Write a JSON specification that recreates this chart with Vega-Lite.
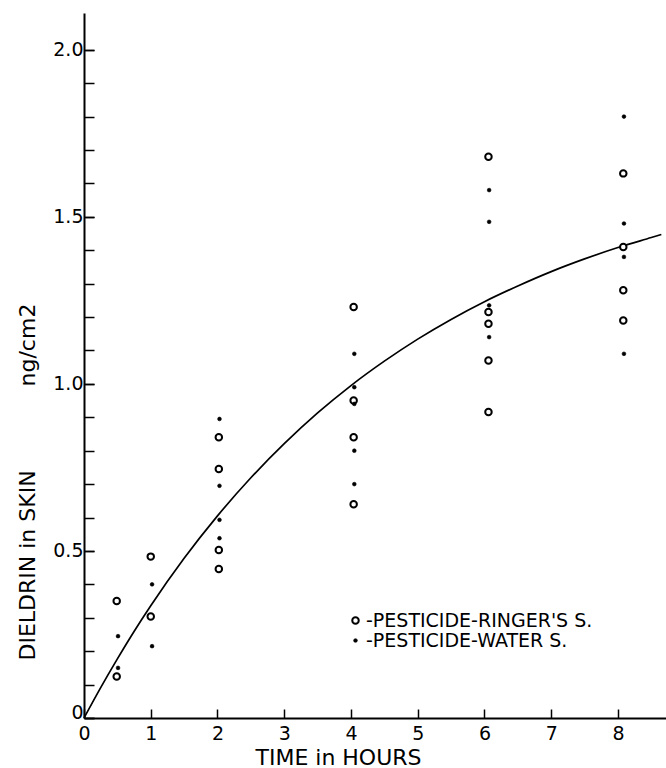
{
  "$schema": "https://vega.github.io/schema/vega-lite/v6.json",
  "autosize": {"type": "none"},
  "padding": {"left": 84, "top": 13, "right": 0, "bottom": 50},
  "width": 582,
  "height": 705,
  "background": "white",
  "config": {
    "view": {"stroke": null},
    "font": "DejaVu Sans",
    "axis": {
      "domainColor": "black", "domainWidth": 2,
      "tickColor": "black", "tickWidth": 1.5,
      "labelColor": "black", "titleColor": "black",
      "labelFont": "DejaVu Sans", "titleFont": "DejaVu Sans",
      "labelFontSize": 19, "titleFontSize": 22, "titleFontWeight": "normal",
      "grid": false, "labelOverlap": false, "labelBound": false, "labelFlush": false
    },
    "legend": {"labelFont": "DejaVu Sans", "labelFontSize": 19, "labelColor": "black", "labelLimit": 0}
  },
  "resolve": {"axis": {"y": "independent"}},
  "datasets": {
    "curve": [
      {"t": 0, "v": 0}, {"t": 0.25, "v": 0.091}, {"t": 0.5, "v": 0.177}, {"t": 0.75, "v": 0.259},
      {"t": 1, "v": 0.336}, {"t": 1.5, "v": 0.478}, {"t": 2, "v": 0.605}, {"t": 2.5, "v": 0.719},
      {"t": 3, "v": 0.821}, {"t": 3.5, "v": 0.913}, {"t": 4, "v": 0.995}, {"t": 4.5, "v": 1.068},
      {"t": 5, "v": 1.134}, {"t": 5.5, "v": 1.193}, {"t": 6, "v": 1.246}, {"t": 6.5, "v": 1.293},
      {"t": 7, "v": 1.336}, {"t": 7.5, "v": 1.374}, {"t": 8, "v": 1.408}, {"t": 8.5, "v": 1.438},
      {"t": 8.65, "v": 1.447}
    ],
    "pts": [
      {"hours": 0.49, "value": 0.35, "series": "-PESTICIDE-RINGER'S S."},
      {"hours": 0.49, "value": 0.124, "series": "-PESTICIDE-RINGER'S S."},
      {"hours": 0.51, "value": 0.245, "series": "-PESTICIDE-WATER S."},
      {"hours": 0.51, "value": 0.15, "series": "-PESTICIDE-WATER S."},
      {"hours": 1.0, "value": 0.483, "series": "-PESTICIDE-RINGER'S S."},
      {"hours": 1.0, "value": 0.304, "series": "-PESTICIDE-RINGER'S S."},
      {"hours": 1.02, "value": 0.40, "series": "-PESTICIDE-WATER S."},
      {"hours": 1.02, "value": 0.215, "series": "-PESTICIDE-WATER S."},
      {"hours": 2.02, "value": 0.84, "series": "-PESTICIDE-RINGER'S S."},
      {"hours": 2.02, "value": 0.745, "series": "-PESTICIDE-RINGER'S S."},
      {"hours": 2.02, "value": 0.503, "series": "-PESTICIDE-RINGER'S S."},
      {"hours": 2.02, "value": 0.446, "series": "-PESTICIDE-RINGER'S S."},
      {"hours": 2.03, "value": 0.895, "series": "-PESTICIDE-WATER S."},
      {"hours": 2.03, "value": 0.695, "series": "-PESTICIDE-WATER S."},
      {"hours": 2.03, "value": 0.593, "series": "-PESTICIDE-WATER S."},
      {"hours": 2.03, "value": 0.538, "series": "-PESTICIDE-WATER S."},
      {"hours": 4.04, "value": 1.23, "series": "-PESTICIDE-RINGER'S S."},
      {"hours": 4.04, "value": 0.95, "series": "-PESTICIDE-RINGER'S S."},
      {"hours": 4.04, "value": 0.84, "series": "-PESTICIDE-RINGER'S S."},
      {"hours": 4.04, "value": 0.64, "series": "-PESTICIDE-RINGER'S S."},
      {"hours": 4.05, "value": 1.09, "series": "-PESTICIDE-WATER S."},
      {"hours": 4.05, "value": 0.99, "series": "-PESTICIDE-WATER S."},
      {"hours": 4.05, "value": 0.94, "series": "-PESTICIDE-WATER S."},
      {"hours": 4.05, "value": 0.80, "series": "-PESTICIDE-WATER S."},
      {"hours": 4.05, "value": 0.70, "series": "-PESTICIDE-WATER S."},
      {"hours": 6.06, "value": 1.68, "series": "-PESTICIDE-RINGER'S S."},
      {"hours": 6.06, "value": 1.215, "series": "-PESTICIDE-RINGER'S S."},
      {"hours": 6.06, "value": 1.18, "series": "-PESTICIDE-RINGER'S S."},
      {"hours": 6.06, "value": 1.07, "series": "-PESTICIDE-RINGER'S S."},
      {"hours": 6.06, "value": 0.916, "series": "-PESTICIDE-RINGER'S S."},
      {"hours": 6.07, "value": 1.58, "series": "-PESTICIDE-WATER S."},
      {"hours": 6.07, "value": 1.485, "series": "-PESTICIDE-WATER S."},
      {"hours": 6.07, "value": 1.235, "series": "-PESTICIDE-WATER S."},
      {"hours": 6.07, "value": 1.14, "series": "-PESTICIDE-WATER S."},
      {"hours": 8.08, "value": 1.63, "series": "-PESTICIDE-RINGER'S S."},
      {"hours": 8.08, "value": 1.41, "series": "-PESTICIDE-RINGER'S S."},
      {"hours": 8.08, "value": 1.28, "series": "-PESTICIDE-RINGER'S S."},
      {"hours": 8.08, "value": 1.19, "series": "-PESTICIDE-RINGER'S S."},
      {"hours": 8.09, "value": 1.80, "series": "-PESTICIDE-WATER S."},
      {"hours": 8.09, "value": 1.48, "series": "-PESTICIDE-WATER S."},
      {"hours": 8.09, "value": 1.38, "series": "-PESTICIDE-WATER S."},
      {"hours": 8.09, "value": 1.09, "series": "-PESTICIDE-WATER S."}
    ]
  },
  "layer": [
    {
      "data": {"name": "curve"},
      "mark": {"type": "line", "color": "black", "strokeWidth": 1.7, "interpolate": "monotone"},
      "encoding": {
        "x": {
          "field": "t", "type": "quantitative",
          "scale": {"domain": [0, 8.72], "nice": false, "zero": true},
          "axis": {
            "values": [0, 0.5, 1, 1.5, 2, 2.5, 3, 3.5, 4, 4.5, 5, 5.5, 6, 6.5, 7, 7.5, 8, 8.5],
            "labelExpr": "datum.value % 1 == 0 ? datum.value : ''",
            "labelOverlap": false,
            "tickSize": -9, "labelPadding": 15,
            "title": "TIME in HOURS",
            "titleX": 254, "titleY": 46, "titleAlign": "center", "titleBaseline": "alphabetic",
            "titleAnchor": null
          }
        },
        "y": {
          "field": "v", "type": "quantitative",
          "scale": {"domain": [0, 2.11], "nice": false, "zero": true},
          "axis": {
            "orient": "left",
            "values": [0, 0.1, 0.2, 0.3, 0.4, 0.5, 0.6, 0.7, 0.8, 0.9, 1.0, 1.1, 1.2, 1.3, 1.4, 1.5, 1.6, 1.7, 1.8, 1.9, 2.0],
            "labels": false,
            "tickSize": -10,
            "title": null
          }
        }
      }
    },
    {
      "data": {"name": "pts"},
      "mark": {"type": "point", "shape": "circle", "filled": true, "stroke": "black", "opacity": 1},
      "encoding": {
        "x": {"field": "hours", "type": "quantitative"},
        "y": {
          "field": "value", "type": "quantitative",
          "scale": {"domain": [0, 2.11], "nice": false, "zero": true},
          "axis": {
            "orient": "left",
            "values": [0, 0.5, 1.0, 1.5, 2.0],
            "labelExpr": "datum.value == 0 ? '0' : format(datum.value, '.1f')",
            "labelOverlap": false,
            "domain": false,
            "tickSize": -10, "labelPadding": 11,
            "labelBaseline": {"condition": {"test": "datum.value == 0", "value": "alphabetic"}, "value": "middle"},
            "title": "DIELDRIN\u00a0in\u00a0SKIN\u00a0\u00a0\u00a0\u00a0\u00a0\u00a0\u00a0\u00a0\u00a0\u00a0\u00a0\u00a0ng/cm2",
            "titleAngle": -90, "titleX": -50, "titleY": 647, "titleAlign": "left", "titleBaseline": "alphabetic",
            "titleAnchor": null
          }
        },
        "fill": {
          "field": "series", "type": "nominal",
          "scale": {"domain": ["-PESTICIDE-RINGER'S S.", "-PESTICIDE-WATER S."], "range": ["white", "black"]},
          "legend": {
            "title": null, "orient": "none", "legendX": 262, "legendY": 598,
            "symbolType": "circle", "symbolStrokeColor": "black", "labelOffset": 1,
            "symbolOffset": 0, "rowPadding": 0, "labelLimit": 0
          }
        },
        "size": {
          "field": "series", "type": "nominal",
          "scale": {"domain": ["-PESTICIDE-RINGER'S S.", "-PESTICIDE-WATER S."], "range": [42, 14]}
        },
        "strokeWidth": {
          "field": "series", "type": "nominal",
          "scale": {"domain": ["-PESTICIDE-RINGER'S S.", "-PESTICIDE-WATER S."], "range": [2, 0.6]}
        }
      }
    }
  ]
}
